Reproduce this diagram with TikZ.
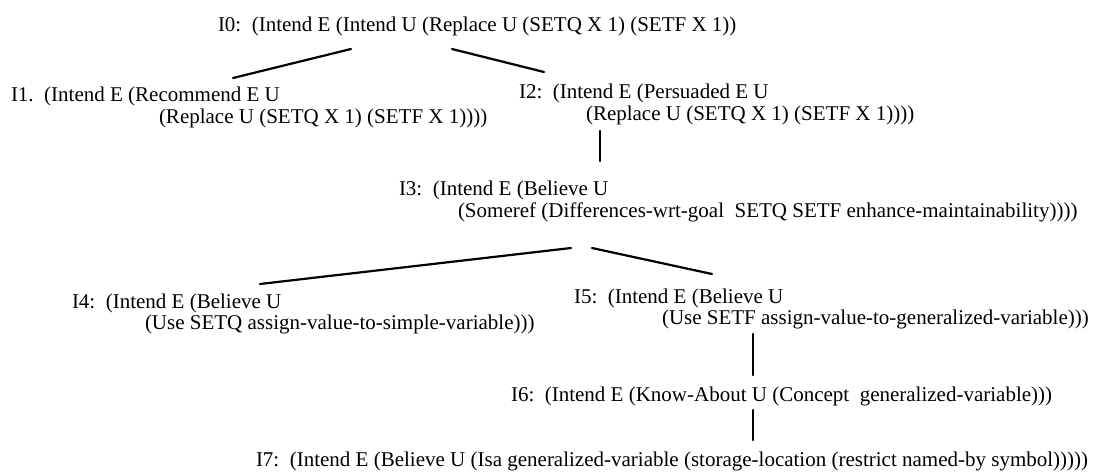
\documentclass[tikz,border=0pt]{standalone}
\usepackage{fontspec}
\setmainfont{Liberation Serif}
\begin{document}
\begin{tikzpicture}[x=0.5pt,y=-0.5pt,
  txt/.style={anchor=base west,inner sep=0pt,outer sep=0pt,font=\fontsize{10.5}{10}\selectfont},
  edge/.style={line width=1.1pt,line cap=round}]
\useasboundingbox (0,0) rectangle (1107,471);
% I0
\node[txt] (i0) at (218,32) {I0:\ \ (Intend E (Intend U (Replace U (SETQ X 1) (SETF X 1))};
% I1
\node[txt] (i1) at (11,101) {I1.\ \ (Intend E (Recommend E U};
\node[txt] (i1b) at (159,123) {(Replace U (SETQ X 1) (SETF X 1))))};
% I2
\node[txt] (i2) at (519,98) {I2:\ \ (Intend E (Persuaded E U};
\node[txt] (i2b) at (586,120) {(Replace U (SETQ X 1) (SETF X 1))))};
% I3
\node[txt] (i3) at (399,195) {I3:\ \ (Intend E (Believe U};
\node[txt] (i3b) at (458,217) {(Someref (Differences-wrt-goal\ \ SETQ SETF enhance-maintainability))))};
% I4
\node[txt] (i4) at (72,308) {I4:\ \ (Intend E (Believe U};
\node[txt] (i4b) at (145,329) {(Use SETQ assign-value-to-simple-variable)))};
% I5
\node[txt] (i5) at (574,303) {I5:\ \ (Intend E (Believe U};
\node[txt] (i5b) at (662,324) {(Use SETF assign-value-to-generalized-variable)))};
% I6
\node[txt] (i6) at (511,401) {I6:\ \ (Intend E (Know-About U (Concept\ \ generalized-variable)))};
% I7
\node[txt] (i7) at (256,466) {I7:\ \ (Intend E (Believe U (Isa generalized-variable (storage-location (restrict named-by symbol)))))};
% connector end points
\coordinate (a0) at (351,49);  \coordinate (a1) at (233,78);
\coordinate (b0) at (452,49);  \coordinate (b2) at (544,72);
\coordinate (c2) at (600,131); \coordinate (c3) at (600,161);
\coordinate (d3) at (571,248); \coordinate (d4) at (260,284);
\coordinate (e3) at (592,248); \coordinate (e5) at (712,274);
\coordinate (f5) at (753,334); \coordinate (f6) at (753,375);
\coordinate (g6) at (753,410); \coordinate (g7) at (753,440);
\draw[edge] (a0) -- (a1);
\draw[edge] (b0) -- (b2);
\draw[edge] (c2) -- (c3);
\draw[edge] (d3) -- (d4);
\draw[edge] (e3) -- (e5);
\draw[edge] (f5) -- (f6);
\draw[edge] (g6) -- (g7);
\end{tikzpicture}
\end{document}
